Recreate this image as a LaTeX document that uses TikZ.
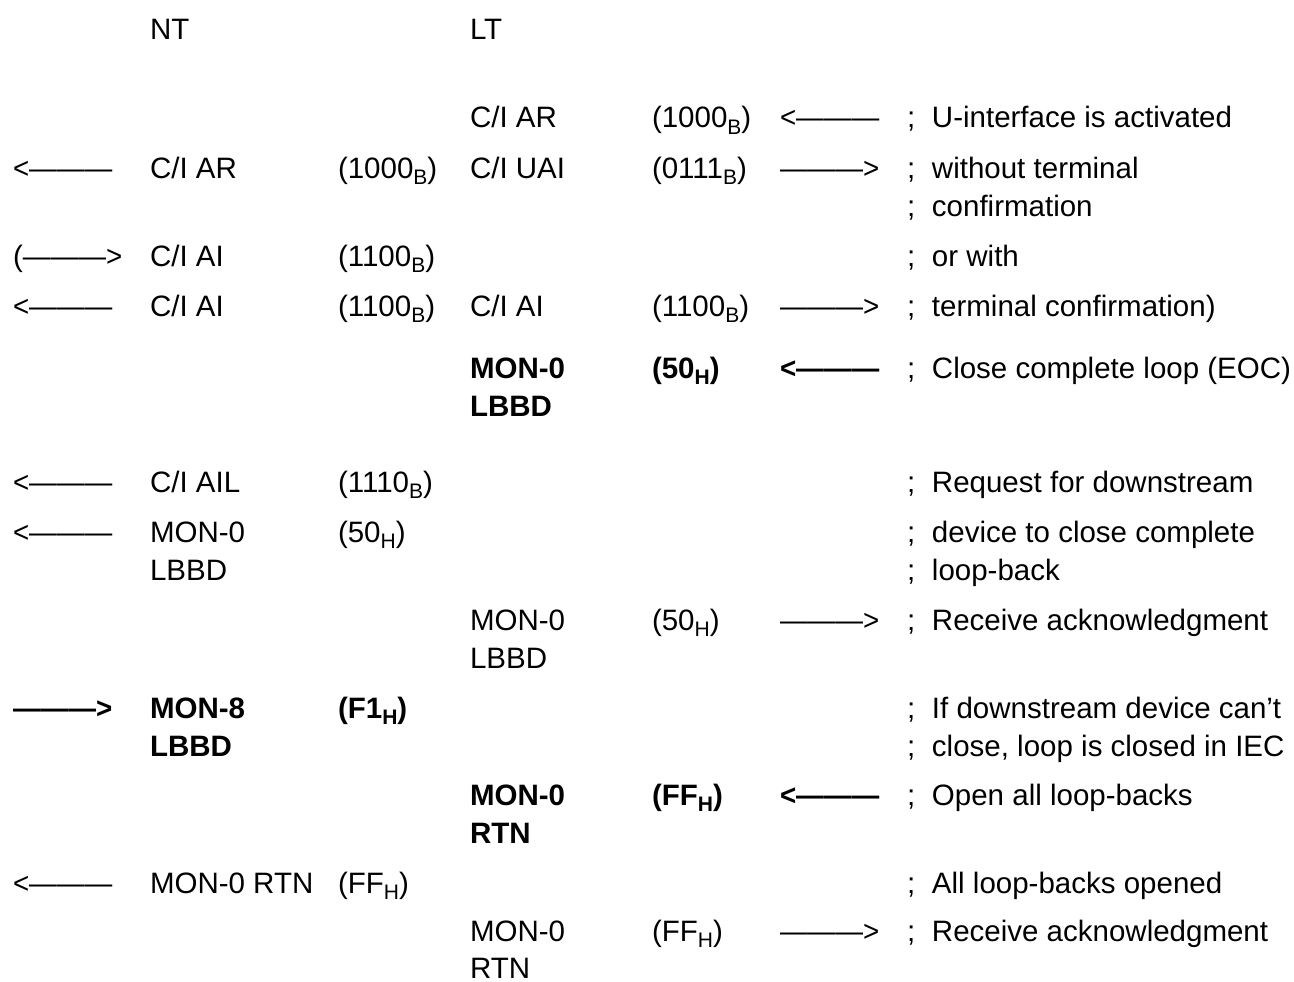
\documentclass[tikz,border=0pt]{standalone}
\usepackage{fontspec}
\usepackage{graphicx}
\setmainfont{Liberation Sans}
\newcommand{\mysub}[1]{\raisebox{-6pt}{\fontsize{21}{21}\selectfont #1}}
\newcommand{\mysemi}{;\hspace{16.8pt}}
\newcommand{\larr}{\scalebox{0.94}[1]{<———}}
\newcommand{\rarr}{\scalebox{0.94}[1]{———>}}
\tikzset{
  cell/.style={anchor=base west, inner sep=0pt, outer sep=0pt, font=\fontsize{29.5}{38}\selectfont},
  bcell/.style={cell, font=\fontsize{29.5}{38}\selectfont\bfseries}
}
\begin{document}
\begin{tikzpicture}[x=1pt,y=-1pt]
\useasboundingbox (0,0) rectangle (1294,982);
% column x positions
\def\xA{13}\def\xB{150}\def\xC{338}\def\xD{470}\def\xE{652}\def\xF{780}\def\xG{907}
% header
\node[cell] (nt) at (\xB,40) {NT};
\node[cell] (lt) at (\xD,40) {LT};
% row 1
\node[cell] (d1) at (\xD,128) {C/I AR};
\node[cell] (e1) at (\xE,128) {(1000\mysub{B})};
\node[cell] (f1) at (\xF,128) {\larr};
\node[cell] (g1) at (\xG,128) {\mysemi U-interface is activated};
% row 2
\node[cell] (a2) at (\xA,178) {\larr};
\node[cell] (b2) at (\xB,178) {C/I AR};
\node[cell] (c2) at (\xC,178) {(1000\mysub{B})};
\node[cell] (d2) at (\xD,178) {C/I UAI};
\node[cell] (e2) at (\xE,178) {(0111\mysub{B})};
\node[cell] (f2) at (\xF,178) {\rarr};
\node[cell] (g2) at (\xG,178) {\mysemi without terminal};
\node[cell] (g3) at (\xG,216) {\mysemi confirmation};
% row 4
\node[cell] (a4) at (\xA,266) {(\rarr};
\node[cell] (b4) at (\xB,266) {C/I AI};
\node[cell] (c4) at (\xC,266) {(1100\mysub{B})};
\node[cell] (g4) at (\xG,266) {\mysemi or with};
% row 5
\node[cell] (a5) at (\xA,316) {\larr};
\node[cell] (b5) at (\xB,316) {C/I AI};
\node[cell] (c5) at (\xC,316) {(1100\mysub{B})};
\node[cell] (d5) at (\xD,316) {C/I AI};
\node[cell] (e5) at (\xE,316) {(1100\mysub{B})};
\node[cell] (f5) at (\xF,316) {\rarr};
\node[cell] (g5) at (\xG,316) {\mysemi terminal confirmation)};
% row 6
\node[bcell] (d6) at (\xD,378) {MON-0};
\node[bcell] (d6b) at (\xD,416) {LBBD};
\node[bcell] (e6) at (\xE,378) {(50\mysub{H})};
\node[bcell] (f6) at (\xF,378) {\larr};
\node[cell] (g6) at (\xG,378) {\mysemi Close complete loop (EOC)};
% row 7
\node[cell] (a7) at (\xA,492) {\larr};
\node[cell] (b7) at (\xB,492) {C/I AIL};
\node[cell] (c7) at (\xC,492) {(1110\mysub{B})};
\node[cell] (g7) at (\xG,492) {\mysemi Request for downstream};
% row 8
\node[cell] (a8) at (\xA,542) {\larr};
\node[cell] (b8) at (\xB,542) {MON-0};
\node[cell] (b8b) at (\xB,580) {LBBD};
\node[cell] (c8) at (\xC,542) {(50\mysub{H})};
\node[cell] (g8) at (\xG,542) {\mysemi device to close complete};
\node[cell] (g8b) at (\xG,580) {\mysemi loop-back};
% row 9
\node[cell] (d9) at (\xD,630) {MON-0};
\node[cell] (d9b) at (\xD,668) {LBBD};
\node[cell] (e9) at (\xE,630) {(50\mysub{H})};
\node[cell] (f9) at (\xF,630) {\rarr};
\node[cell] (g9) at (\xG,630) {\mysemi Receive acknowledgment};
% row 10
\node[bcell] (a10) at (\xA,718) {\rarr};
\node[bcell] (b10) at (\xB,718) {MON-8};
\node[bcell] (b10b) at (\xB,756) {LBBD};
\node[bcell] (c10) at (\xC,718) {(F1\mysub{H})};
\node[cell] (g10) at (\xG,718) {\mysemi If downstream device can’t};
\node[cell] (g10b) at (\xG,756) {\mysemi close, loop is closed in IEC};
% row 11
\node[bcell] (d11) at (\xD,805) {MON-0};
\node[bcell] (d11b) at (\xD,843) {RTN};
\node[bcell] (e11) at (\xE,805) {(FF\mysub{H})};
\node[bcell] (f11) at (\xF,805) {\larr};
\node[cell] (g11) at (\xG,805) {\mysemi Open all loop-backs};
% row 12
\node[cell] (a12) at (\xA,893) {\larr};
\node[cell] (b12) at (\xB,893) {MON-0 RTN};
\node[cell] (c12) at (\xC,893) {(FF\mysub{H})};
\node[cell] (g12) at (\xG,893) {\mysemi All loop-backs opened};
% row 13
\node[cell] (d13) at (\xD,941) {MON-0};
\node[cell] (d13b) at (\xD,978) {RTN};
\node[cell] (e13) at (\xE,941) {(FF\mysub{H})};
\node[cell] (f13) at (\xF,941) {\rarr};
\node[cell] (g13) at (\xG,941) {\mysemi Receive acknowledgment};
\end{tikzpicture}
\end{document}
